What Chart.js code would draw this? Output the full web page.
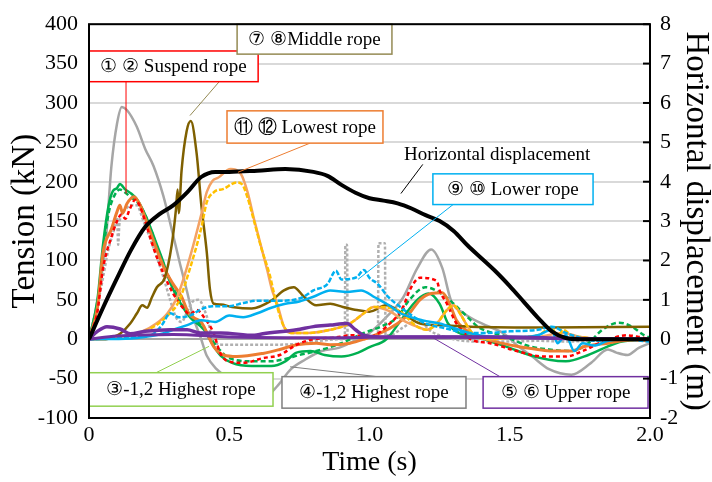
<!DOCTYPE html>
<html>
<head>
<meta charset="utf-8">
<script src="https://cdn.jsdelivr.net/npm/chart.js@4.4.1/dist/chart.umd.min.js"></script>
<style>
  html, body { margin: 0; padding: 0; background: #fff; }
</style>
</head>
<body>
<canvas id="ropeChart" width="712" height="482"></canvas>
<script>
// Tick labels
var timeTicks = [0, 0.5, 1.0, 1.5, 2.0];

// Horizontal displacement (m), right axis
var tDisp = [0,0.05,0.1,0.15,0.2,0.25,0.3,0.35,0.4,0.45,0.5,0.6,0.7,0.8,0.85,0.9,0.95,1.0,1.05,1.1,1.15,1.2,1.25,1.3,1.35,1.4,1.45,1.5,1.55,1.6,1.65,1.7,1.75,2.0];
var vDisp = [0,0.8,1.55,2.27,2.85,3.17,3.4,3.73,4.12,4.25,4.25,4.28,4.32,4.25,4.15,3.92,3.72,3.58,3.52,3.45,3.32,3.15,3.0,2.75,2.38,2.05,1.72,1.35,0.95,0.55,0.2,0.03,0,0];

// ④-1,2 Highest rope (gray)
var tGrayA = [0,0.02,0.04,0.06,0.08,0.1,0.117,0.135,0.17,0.2,0.23,0.265,0.3,0.325,0.35,0.37,0.4,0.42,0.455,0.49,0.53,0.58,0.63,0.67,0.72,0.77,0.83,0.89,0.94,1.0,1.06,1.12,1.17,1.22,1.26,1.29,1.34,1.4,1.48,1.53,1.58,1.64,1.72,1.79,1.85,1.88,1.92,1.96,2.0];
var vGrayA = [0,30,70,125,220,274,295,291,270,242,220,182,132,95,60,30,0,-21,-38,-48,-62,-72,-72,-60,-38,-26,-15,-11,-3,8,28,53,90,114,90,50,32,20,7,-9,-22,-38,-45,-30,-13,-17,-20,-11,-5];
var tGrayB = [0,0.04,0.07,0.09,0.1,0.104,0.108,0.115,0.13,0.15,0.17,0.195,0.218,0.242,0.266,0.29,0.31,0.33,0.35,0.37,0.39,0.42,0.445,0.49,0.63,0.74,0.8,0.9,0.912,0.914,0.92,0.922,0.96,1.03,1.032,1.055,1.057,1.07,1.12,1.17,1.22,1.3,1.4,1.5,1.6,1.7,1.8,1.9,2.0];
var vGrayB = [0,60,115,140,154,120,145,158,165,170,170,149,128,104,78,49,28,22,35,48,50,29,-4,-7,-7,-6,-3,0,0,120,120,0,3,3,122,122,5,5,15,25,10,0,-3,-3,-2,-3,-2,-2,0];

// ③-1,2 Highest rope (green)
var tGreenA = [0,0.03,0.05,0.07,0.085,0.1,0.11,0.13,0.15,0.17,0.195,0.22,0.24,0.265,0.285,0.31,0.36,0.41,0.445,0.47,0.51,0.58,0.65,0.7,0.74,0.79,0.84,0.9,0.96,1.0,1.06,1.12,1.17,1.21,1.25,1.28,1.32,1.38,1.45,1.5,1.57,1.64,1.7,1.78,1.85,1.9,2.0];
var vGreenA = [0,50,120,170,188,192,197,190,185,178,162,141,122,98,76,56,28,12,-9,-21,-30,-34,-34,-28,-17,-15,-20,-22,-17,-10,0,28,50,58,45,20,8,3,-5,-11,-20,-26,-28,-20,-9,-3,0];
var tGreenB = [0,0.03,0.05,0.07,0.09,0.11,0.13,0.15,0.17,0.2,0.22,0.24,0.27,0.3,0.33,0.37,0.41,0.44,0.47,0.5,0.58,0.65,0.7,0.75,0.8,0.86,0.9,0.98,1.04,1.1,1.14,1.2,1.26,1.3,1.35,1.39,1.48,1.57,1.64,1.72,1.78,1.83,1.89,1.93,1.98,2.0];
var vGreenB = [0,45,110,160,182,190,186,180,175,158,140,120,92,66,45,28,14,-2,-15,-24,-28,-28,-25,-20,-16,-10,-5,8,16,28,49,66,57,45,28,15,4,-9,-13,-15,-5,12,21,17,5,2];

// ①② Suspend rope (red dashed, orange)
var tRed = [0,0.03,0.05,0.08,0.1,0.115,0.13,0.145,0.165,0.18,0.2,0.23,0.266,0.3,0.33,0.36,0.385,0.41,0.444,0.467,0.49,0.55,0.62,0.68,0.74,0.8,0.87,0.94,1.0,1.06,1.12,1.143,1.18,1.24,1.25,1.276,1.31,1.34,1.36,1.43,1.525,1.62,1.7,1.76,1.833,1.917,1.96,2.0];
var vRed = [0,35,90,130,150,158,153,165,177,170,150,116,83,58,42,32,37,28,8,-17,-27,-30,-24,-20,-7,0,2,5,3,16,41,62,78,74,62,45,20,8,0,-5,-15,-22,-22,-15,-3,5,3,0];
var tOrange = [0,0.03,0.05,0.08,0.1,0.11,0.12,0.135,0.16,0.18,0.195,0.23,0.266,0.3,0.33,0.355,0.38,0.4,0.444,0.48,0.527,0.62,0.68,0.74,0.81,0.86,0.93,0.98,1.04,1.1,1.14,1.18,1.22,1.26,1.29,1.31,1.36,1.45,1.525,1.6,1.65,1.715,1.77,1.85,1.93,2.0];
var vOrange = [0,40,110,140,162,170,160,172,181,172,159,125,92,70,54,33,26,22,-9,-20,-22,-18,-13,-7,-5,-7,-5,0,8,20,32,50,58,59,41,24,8,-3,-9,-13,-15,-15,-9,-5,-1,-2];

// ⑪⑫ Lowest rope (salmon, gold)
var tSalmon = [0,0.11,0.19,0.24,0.28,0.315,0.363,0.4,0.42,0.44,0.46,0.505,0.541,0.565,0.588,0.612,0.636,0.653,0.671,0.695,0.72,0.78,0.86,0.93,0.98,1.015,1.075,1.12,1.17,1.205,1.24,1.276,1.3,1.324,1.35,1.38,1.43,1.5,1.6,1.69,1.75,1.85,2.0];
var vSalmon = [0,3,10,20,33,54,108,158,187,201,205,216,210,187,153,120,87,62,45,16,8,8,12,20,33,41,35,24,16,12,20,37,43,32,16,3,0,2,3,8,3,0,0];
var tGold = [0,0.11,0.19,0.24,0.28,0.32,0.36,0.4,0.42,0.446,0.48,0.526,0.545,0.565,0.59,0.615,0.644,0.671,0.695,0.72,0.78,0.86,0.93,0.98,1.015,1.1,1.17,1.205,1.24,1.276,1.3,1.324,1.35,1.38,1.43,1.5,1.6,1.65,1.67,1.69,1.72,1.75,1.85,2.0];
var vGold = [0,3,9,18,30,48,90,141,174,187,191,199,197,180,148,115,82,41,16,8,8,12,20,33,41,37,16,12,20,37,43,32,16,3,0,2,5,15,2,12,5,3,0,0];

// ⑦⑧ Middle rope (olive)
var tOlive = [0,0.06,0.088,0.111,0.147,0.171,0.19,0.207,0.224,0.242,0.27,0.295,0.31,0.316,0.32,0.33,0.348,0.363,0.384,0.4,0.42,0.431,0.445,0.47,0.51,0.58,0.65,0.695,0.73,0.766,0.81,0.86,0.905,0.955,1.0,1.06,1.12,1.18,1.24,1.36,1.64,2.0];
var vOlive = [0,0,3,7,20,33,43,40,53,66,78,120,165,190,160,214,264,277,235,172,110,64,45,44,41,39,49,62,66,54,43,45,41,37,35,43,32,20,18,16,15,16];

// ⑨⑩ Lower rope (light blue)
var tBlueA = [0,0.15,0.2,0.25,0.3,0.35,0.4,0.45,0.5,0.55,0.6,0.65,0.7,0.75,0.8,0.86,0.92,0.97,1.02,1.07,1.11,1.19,1.25,1.32,1.39,1.47,1.55,1.6,1.65,1.67,1.7,1.73,1.76,1.8,1.85,1.9,2.0];
var vBlueA = [0,1,3,6,12,18,24,22,30,28,33,40,45,48,54,62,60,62,53,43,33,24,20,12,5,3,3,5,12,-5,5,-15,-5,-8,-2,0,0];
var tBlueB = [0,0.17,0.23,0.26,0.29,0.32,0.36,0.4,0.44,0.5,0.55,0.6,0.69,0.76,0.8,0.85,0.88,0.9,0.955,0.98,1.0,1.03,1.066,1.11,1.16,1.2,1.27,1.35,1.42,1.5,1.6,1.65,1.7,1.75,1.8,1.9,2.0];
var vBlueB = [0,3,7,18,33,28,30,38,42,42,46,49,49,53,62,70,87,76,79,88,78,70,54,41,28,20,14,8,8,10,12,16,8,2,-2,0,-3];

// ⑤⑥ Upper rope (purple)
var tPurpleA = [0,0.03,0.064,0.111,0.147,0.2,0.29,0.35,0.396,0.47,0.59,0.62,0.74,0.8,0.86,0.92,0.95,0.98,1.04,1.1,1.5,1.7,2.0];
var vPurpleA = [0,10,16,13,7,10,12,12,8,8,5,7,12,16,18,20,12,5,3,3,3,1,0];
var tPurpleB = [0,0.1,0.3,0.5,0.7,0.9,1.1,1.3,1.5,1.7,2.0];
var vPurpleB = [0,4,6,3,2,2,3,3,2,1,0];

// Callout labels: box [t0, t1, kN0, kN1], line [t, kN, t, kN]
var notes = [
  { text: '\u2460 \u2461 Suspend rope', color: '#ff0000', box: [0, 0.603, 327, 366], line: [0.132, 327, 0.132, 185] },
  { text: '\u2466 \u2467Middle rope', color: '#948a54', box: [0.528, 1.08, 362, 400], line: [0.549, 362, 0.36, 284] },
  { text: '\u246A \u246B Lowest rope', color: '#ed7d31', box: [0.492, 1.048, 249, 290], line: [0.788, 249, 0.531, 212] },
  { text: 'Horizontal displacement', color: '#000000', at: [1.455, 235], line: [1.19, 222, 1.112, 185] },
  { text: '\u2468 \u2469 Lower rope', color: '#00b0f0', box: [1.226, 1.797, 171, 210], line: [1.298, 171, 0.959, 76] },
  { text: '\u2462-1,2 Highest rope', color: '#92d050', box: [0, 0.656, -85, -42.5], line: [0.239, -42.5, 0.428, -9] },
  { text: '\u2463-1,2 Highest rope', color: '#7f7f7f', box: [0.688, 1.344, -87.5, -47.5], line: [1.027, -47.5, 0.717, -35] },
  { text: '\u2464 \u2465 Upper rope', color: '#7030a0', box: [1.405, 1.993, -87.5, -47.5], line: [1.465, -47.5, 1.216, 4] }
];

var serif = '"Liberation Serif", "Times New Roman", serif';

function pts(t, v) {
  return t.map(function(x, i) { return { x: x, y: v[i] }; });
}

function line(label, t, v, color, width, dash, axis) {
  return {
    label: label,
    data: pts(t, v),
    borderColor: color,
    borderWidth: width,
    borderDash: dash || [],
    pointRadius: 0,
    fill: false,
    cubicInterpolationMode: 'monotone',
    yAxisID: axis || 'y'
  };
}

// desenha caixas, linhas de chamada, moldura e ticks internos do eixo direito
var calloutPlugin = {
  id: 'callouts',
  afterDatasetsDraw: function(chart) {
    var ctx = chart.ctx;
    var xs = chart.scales.x, ys = chart.scales.y, y2 = chart.scales.y2;
    var area = chart.chartArea;
    ctx.save();

    notes.forEach(function(n) {
      ctx.strokeStyle = n.color;
      ctx.lineWidth = 1;
      ctx.beginPath();
      ctx.moveTo(xs.getPixelForValue(n.line[0]), ys.getPixelForValue(n.line[1]));
      ctx.lineTo(xs.getPixelForValue(n.line[2]), ys.getPixelForValue(n.line[3]));
      ctx.stroke();
    });

    notes.forEach(function(n) {
      var cx, cy;
      if (n.box) {
        var l = xs.getPixelForValue(n.box[0]), r = xs.getPixelForValue(n.box[1]);
        var top = ys.getPixelForValue(n.box[3]), bot = ys.getPixelForValue(n.box[2]);
        ctx.fillStyle = '#ffffff';
        ctx.fillRect(l, top, r - l, bot - top);
        ctx.strokeStyle = n.color;
        ctx.lineWidth = 1.5;
        ctx.strokeRect(l, top, r - l, bot - top);
        cx = (l + r) / 2;
        cy = (top + bot) / 2;
      } else {
        cx = xs.getPixelForValue(n.at[0]);
        cy = ys.getPixelForValue(n.at[1]);
      }
      ctx.fillStyle = '#000000';
      ctx.font = '19px ' + serif;
      ctx.textAlign = 'center';
      ctx.textBaseline = 'middle';
      ctx.fillText(n.text, cx, cy + 1);
    });

    ctx.strokeStyle = '#000000';
    ctx.lineWidth = 2;
    ctx.strokeRect(area.left, area.top, area.right - area.left, area.bottom - area.top);

    y2.ticks.forEach(function(tk) {
      var py = y2.getPixelForValue(tk.value);
      ctx.beginPath();
      ctx.moveTo(area.right - 7, py);
      ctx.lineTo(area.right, py);
      ctx.stroke();
    });
    ctx.restore();
  }
};

var ctx = document.getElementById('ropeChart').getContext('2d');
var chart = new Chart(ctx, {
  type: 'line',
  data: {
    datasets: [
      line('Horizontal displacement', tDisp, vDisp, '#000000', 4, null, 'y2'),
      line('Upper rope 5', tPurpleA, vPurpleA, '#7030a0', 3.5),
      line('Upper rope 6', tPurpleB, vPurpleB, '#7030a0', 3),
      line('Lower rope 9', tBlueA, vBlueA, '#00b0f0', 2.5),
      line('Lower rope 10', tBlueB, vBlueB, '#00b0f0', 2.5, [5, 2]),
      line('Lowest rope 12', tGold, vGold, '#ffc000', 2.5, [5, 2]),
      line('Lowest rope 11', tSalmon, vSalmon, '#f4a264', 2.5),
      line('Middle rope', tOlive, vOlive, '#7f6000', 2.5),
      line('Suspend rope 1', tRed, vRed, '#ff0000', 2.5, [4, 3]),
      line('Suspend rope 2', tOrange, vOrange, '#ed7d31', 3),
      line('Highest rope 3-2', tGreenB, vGreenB, '#00b050', 2.5, [5, 3]),
      line('Highest rope 3-1', tGreenA, vGreenA, '#00b050', 2.5),
      line('Highest rope 4-2', tGrayB, vGrayB, '#b0b0b0', 2.5, [3, 2]),
      line('Highest rope 4-1', tGrayA, vGrayA, '#a6a6a6', 2.5)
    ]
  },
  options: {
    responsive: false,
    animation: false,
    layout: { padding: { top: 18, left: 0, right: 0, bottom: 0 } },
    plugins: {
      legend: { display: false },
      tooltip: { enabled: false }
    },
    scales: {
      x: {
        type: 'linear',
        min: 0,
        max: 2,
        afterBuildTicks: function(scale) {
          scale.ticks = timeTicks.map(function(v) { return { value: v }; });
        },
        afterFit: function(scale) { scale.height = 64; },
        grid: { display: false, drawTicks: false },
        border: { display: false },
        ticks: {
          color: '#000',
          padding: 4,
          maxRotation: 0,
          font: { family: serif, size: 22 },
          callback: function(v) { return v === 0 ? '0' : v.toFixed(1); }
        },
        title: {
          display: true,
          text: 'Time (s)',
          color: '#000',
          font: { family: serif, size: 28, lineHeight: 1 },
          padding: { top: 0, bottom: 5 }
        }
      },
      y: {
        position: 'left',
        min: -100,
        max: 400,
        afterFit: function(scale) { scale.width = 89; },
        grid: {
          drawTicks: false,
          color: function(c) { return c.tick && c.tick.value === 0 ? '#a6a6a6' : '#d9d9d9'; },
          lineWidth: 2
        },
        border: { display: false },
        ticks: {
          stepSize: 50,
          color: '#000',
          padding: 11,
          font: { family: serif, size: 22 }
        },
        title: {
          display: true,
          text: 'Tension (kN)',
          color: '#000',
          font: { family: serif, size: 33, lineHeight: 1 },
          padding: { top: 9, bottom: 0 }
        }
      },
      y2: {
        position: 'right',
        min: -2,
        max: 8,
        afterFit: function(scale) { scale.width = 62; },
        grid: { display: false, drawTicks: false },
        border: { display: false },
        ticks: {
          stepSize: 1,
          color: '#000',
          padding: 10,
          font: { family: serif, size: 22 }
        },
        title: {
          display: true,
          text: 'Horizontal displacement (m)',
          color: '#000',
          font: { family: serif, size: 33, lineHeight: 1 },
          padding: { top: 0, bottom: 0 }
        }
      }
    }
  },
  plugins: [calloutPlugin]
});
</script>
</body>
</html>
